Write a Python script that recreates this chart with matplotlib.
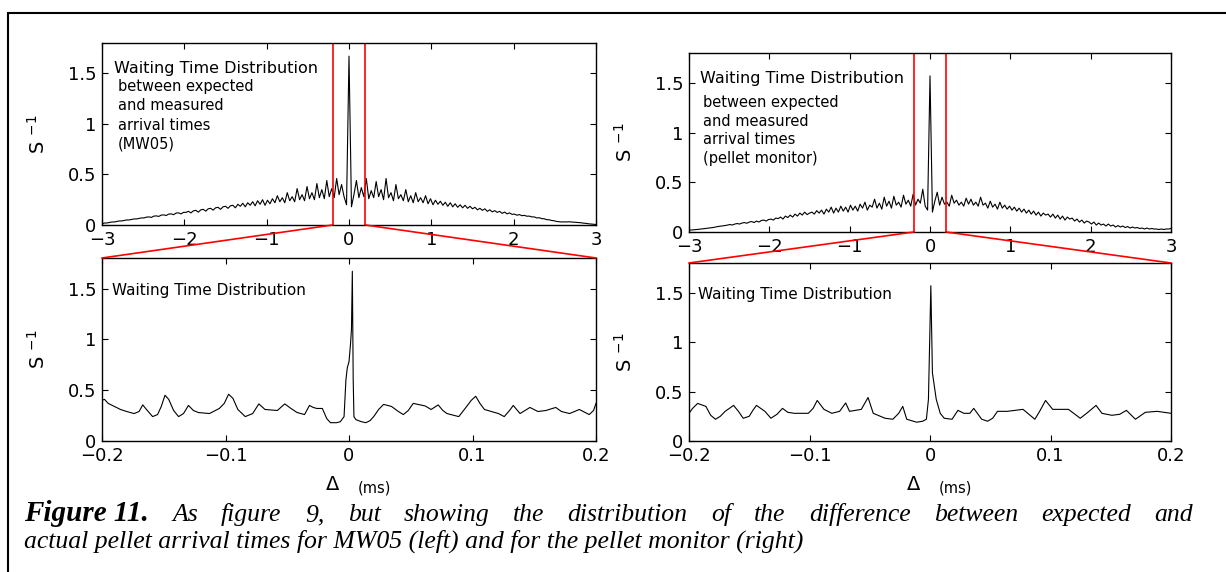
import numpy as np
import matplotlib
matplotlib.use("Agg")
import matplotlib.pyplot as plt
from matplotlib.patches import ConnectionPatch, Rectangle

# ---------------- data ----------------
top_x_start, top_x_step = -3.0, 0.03   # sampling grid of the overview histograms

top_left_y = [
    0.01, 0.02, 0.02, 0.025, 0.03, 0.03, 0.035, 0.04, 0.04, 0.045, 0.05, 0.05, 0.055, 0.06, 0.06, 0.065, 0.07,
    0.07, 0.078, 0.08, 0.075, 0.088, 0.09, 0.085, 0.098, 0.10, 0.094, 0.108, 0.11, 0.102, 0.118, 0.12, 0.11, 0.125,
    0.125, 0.135, 0.12, 0.14, 0.145, 0.127, 0.15, 0.155, 0.137, 0.16, 0.165, 0.147, 0.17, 0.175, 0.155, 0.18, 0.185,
    0.165, 0.19, 0.195, 0.17, 0.205, 0.185, 0.215, 0.18, 0.22, 0.195, 0.23, 0.19, 0.24, 0.205, 0.25, 0.195, 0.245,
    0.21, 0.26, 0.22, 0.29, 0.23, 0.27, 0.22, 0.32, 0.24, 0.28, 0.23, 0.36, 0.25, 0.3, 0.24, 0.38, 0.26,
    0.32, 0.25, 0.41, 0.27, 0.35, 0.26, 0.44, 0.28, 0.36, 0.27, 0.46, 0.3, 0.4, 0.28, 0.2,
    1.67,
    0.18, 0.3, 0.44, 0.27, 0.37, 0.28, 0.46, 0.26, 0.34, 0.27, 0.43, 0.28, 0.35, 0.25, 0.46,
    0.27, 0.32, 0.24, 0.4, 0.26, 0.3, 0.24, 0.35, 0.23, 0.29, 0.22, 0.32, 0.23, 0.27, 0.22, 0.29, 0.21,
    0.26, 0.2, 0.245, 0.205, 0.235, 0.195, 0.225, 0.185, 0.22, 0.18, 0.21, 0.175, 0.2, 0.17, 0.195, 0.165, 0.185,
    0.16, 0.175, 0.15, 0.165, 0.145, 0.16, 0.135, 0.15, 0.13, 0.142, 0.125, 0.135, 0.115, 0.128, 0.11, 0.12, 0.105,
    0.108, 0.097, 0.103, 0.092, 0.095, 0.087, 0.088, 0.08, 0.08, 0.07, 0.072, 0.063, 0.062, 0.053, 0.052, 0.045, 0.042,
    0.035, 0.032, 0.03, 0.031, 0.03, 0.032, 0.03, 0.028, 0.027, 0.025, 0.022, 0.018, 0.016, 0.012, 0.01, 0.008, 0.005,
]

top_right_y = [
    0.02, 0.02, 0.022, 0.025, 0.027, 0.03, 0.032, 0.035, 0.04, 0.042, 0.045, 0.05, 0.055, 0.058, 0.06, 0.065, 0.07,
    0.075, 0.07, 0.08, 0.085, 0.08, 0.09, 0.095, 0.088, 0.1, 0.105, 0.095, 0.11, 0.1, 0.115, 0.12, 0.11, 0.125,
    0.13, 0.12, 0.14, 0.135, 0.15, 0.13, 0.16, 0.145, 0.17, 0.15, 0.18, 0.16, 0.19, 0.17, 0.2, 0.175, 0.19,
    0.2, 0.18, 0.215, 0.19, 0.22, 0.18, 0.23, 0.2, 0.25, 0.19, 0.24, 0.2, 0.26, 0.21, 0.25, 0.2, 0.27,
    0.22, 0.26, 0.21, 0.28, 0.24, 0.3, 0.22, 0.27, 0.25, 0.33, 0.24, 0.29, 0.23, 0.35, 0.26, 0.31, 0.24,
    0.36, 0.27, 0.3, 0.25, 0.37, 0.28, 0.32, 0.26, 0.38, 0.27, 0.33, 0.29, 0.43, 0.26, 0.22,
    1.57,
    0.2, 0.31, 0.4, 0.27, 0.35, 0.28, 0.3, 0.26, 0.37, 0.29, 0.32, 0.27, 0.3, 0.26, 0.34,
    0.28, 0.33, 0.27, 0.3, 0.26, 0.35, 0.27, 0.29, 0.24, 0.31, 0.25, 0.28, 0.23, 0.3, 0.24, 0.27, 0.23,
    0.26, 0.22, 0.25, 0.21, 0.24, 0.2, 0.23, 0.19, 0.22, 0.18, 0.21, 0.17, 0.2, 0.16, 0.19, 0.17, 0.18,
    0.15, 0.18, 0.14, 0.17, 0.13, 0.16, 0.12, 0.15, 0.13, 0.14, 0.11, 0.13, 0.1, 0.12, 0.09, 0.11, 0.1,
    0.08, 0.1, 0.07, 0.09, 0.07, 0.08, 0.06, 0.08, 0.06, 0.07, 0.05, 0.065, 0.05, 0.06, 0.045, 0.055, 0.04,
    0.05, 0.04, 0.045, 0.035, 0.04, 0.03, 0.04, 0.03, 0.035, 0.03, 0.03, 0.025, 0.03, 0.025, 0.03, 0.03, 0.035,
]

bot_left_x = [-0.200, -0.198, -0.195, -0.190, -0.185, -0.180, -0.174, -0.170, -0.167, -0.164, -0.159, -0.155,
              -0.152, -0.149, -0.146, -0.142, -0.138, -0.134, -0.130, -0.126, -0.122, -0.113, -0.105, -0.101,
              -0.0975, -0.094, -0.090, -0.084, -0.078, -0.073, -0.068, -0.058, -0.052, -0.047, -0.042, -0.036,
              -0.032, -0.029, -0.026, -0.0216, -0.018, -0.015, -0.010, -0.007, -0.004, -0.0025, -0.0014, 0.0,
              0.0012, 0.0020, 0.0027, 0.0034, 0.004, 0.0056, 0.010, 0.0136, 0.017, 0.020, 0.024, 0.028, 0.0344,
              0.040, 0.044, 0.048, 0.052, 0.0616, 0.0665, 0.0722, 0.076, 0.0793, 0.0889, 0.0953, 0.0990, 0.1026,
              0.106, 0.1097, 0.121, 0.1257, 0.130, 0.133, 0.1385, 0.1465, 0.153, 0.1594, 0.1674, 0.172, 0.1786,
              0.1865, 0.1945, 0.198, 0.200]
bot_left_y = [0.40, 0.41, 0.37, 0.34, 0.31, 0.29, 0.27, 0.29, 0.355, 0.31, 0.24, 0.26,
              0.34, 0.45, 0.41, 0.30, 0.24, 0.27, 0.35, 0.30, 0.28, 0.27, 0.32, 0.37,
              0.46, 0.42, 0.31, 0.24, 0.27, 0.365, 0.31, 0.30, 0.365, 0.32, 0.28, 0.26,
              0.35, 0.33, 0.32, 0.32, 0.22, 0.18, 0.18, 0.19, 0.24, 0.60, 0.72, 0.78,
              0.95, 1.10, 1.67, 0.60, 0.24, 0.21, 0.19, 0.18, 0.20, 0.24, 0.31, 0.36, 0.34,
              0.29, 0.26, 0.30, 0.37, 0.345, 0.31, 0.355, 0.30, 0.27, 0.24, 0.34, 0.40, 0.44,
              0.37, 0.31, 0.27, 0.24, 0.30, 0.35, 0.27, 0.33, 0.29, 0.30, 0.33, 0.29, 0.27,
              0.31, 0.26, 0.30, 0.37]

bot_right_x = [-0.200, -0.197, -0.1928, -0.186, -0.182, -0.178, -0.174, -0.170, -0.163, -0.159, -0.155, -0.150,
               -0.147, -0.144, -0.137, -0.132, -0.127, -0.1224, -0.118, -0.1126, -0.101, -0.097, -0.0936, -0.088,
               -0.0815, -0.075, -0.070, -0.0668, -0.057, -0.0514, -0.0471, -0.0373, -0.0308, -0.026, -0.0226,
               -0.0193, -0.0111, -0.006, -0.003, -0.0013, 0.0007, 0.002, 0.0052, 0.0085, 0.0118, 0.0183, 0.0232,
               0.0281, 0.033, 0.0363, 0.0429, 0.0478, 0.052, 0.056, 0.0641, 0.0772, 0.087, 0.091, 0.0959, 0.1018,
               0.1083, 0.1149, 0.1247, 0.131, 0.1378, 0.1427, 0.1509, 0.1574, 0.163, 0.1705, 0.1787, 0.1885, 0.200]
bot_right_y = [0.28, 0.33, 0.38, 0.35, 0.26, 0.22, 0.25, 0.30, 0.36, 0.30, 0.23, 0.25,
               0.31, 0.36, 0.30, 0.23, 0.27, 0.33, 0.29, 0.28, 0.28, 0.33, 0.41, 0.32,
               0.28, 0.30, 0.385, 0.30, 0.32, 0.44, 0.28, 0.23, 0.22, 0.28, 0.35,
               0.22, 0.19, 0.20, 0.22, 0.42, 1.57, 0.69, 0.42, 0.28, 0.23, 0.22, 0.31,
               0.28, 0.28, 0.33, 0.22, 0.20, 0.23, 0.30, 0.30, 0.32, 0.22, 0.30, 0.41, 0.32,
               0.32, 0.32, 0.23, 0.29, 0.36, 0.28, 0.26, 0.27, 0.31, 0.22, 0.29, 0.30, 0.28]

top_xticks = [-3, -2, -1, 0, 1, 2, 3]
top_xticklabels = ["\u22123", "\u22122", "\u22121", "0", "1", "2", "3"]
bot_xticks = [-0.2, -0.1, 0, 0.1, 0.2]
bot_xticklabels = ["\u22120.2", "\u22120.1", "0", "0.1", "0.2"]
yticks = [0, 0.5, 1, 1.5]
yticklabels = ["0", "0.5", "1", "1.5"]
zoom_range = (-0.2, 0.2)
y_max = 1.8

title_text = "Waiting Time Distribution"
left_sub = ["between expected", "and measured", "arrival times", "(MW05)"]
right_sub = ["between expected", "and measured", "arrival times", "(pellet monitor)"]
caption_bold = "Figure 11."
caption_line1 = "As figure 9, but showing the distribution of the difference between expected and"
caption_line2 = "actual pellet arrival times for MW05 (left) and for the pellet monitor (right)"

# ---------------- figure ----------------
W, H = 1226, 572
fig = plt.figure(figsize=(W / 100, H / 100), dpi=100)
plt.rcParams['font.family'] = ['DejaVu Sans']


def px_rect(x0, y0, x1, y1):
    return [x0 / W, 1 - y1 / H, (x1 - x0) / W, (y1 - y0) / H]


ax_tl = fig.add_axes(px_rect(102, 43, 596, 225))
ax_bl = fig.add_axes(px_rect(102, 258, 596, 441))
ax_tr = fig.add_axes(px_rect(689, 53, 1171, 232))
ax_br = fig.add_axes(px_rect(689, 263, 1171, 441))

top_x = top_x_start + top_x_step * np.arange(len(top_left_y))


def style(ax, xt, xtl, xlim):
    ax.set_xlim(*xlim)
    ax.set_ylim(0, y_max)
    ax.set_xticks(xt)
    ax.set_xticklabels(xtl)
    ax.set_yticks(yticks)
    ax.set_yticklabels(yticklabels)
    ax.tick_params(direction='in', top=True, right=True, length=4, width=0.8,
                   labelsize=13, pad=4)
    for s in ax.spines.values():
        s.set_linewidth(1.0)
    ax.set_ylabel(r'S $^{-1}$', fontsize=14, labelpad=14)


ax_tl.plot(top_x, top_left_y, color='black', lw=0.8)
ax_tr.plot(top_x, top_right_y, color='black', lw=0.8)
ax_bl.plot(bot_left_x, bot_left_y, color='black', lw=0.8)
ax_br.plot(bot_right_x, bot_right_y, color='black', lw=0.8)

for ax in (ax_tl, ax_tr):
    style(ax, top_xticks, top_xticklabels, (-3, 3))
for ax in (ax_bl, ax_br):
    style(ax, bot_xticks, bot_xticklabels, (-0.2, 0.2))

# zoom indication
for top, bot in ((ax_tl, ax_bl), (ax_tr, ax_br)):
    for xv in zoom_range:
        top.axvline(xv, color='red', lw=1.2)
        cp = ConnectionPatch(xyA=(xv, 0), coordsA=top.transData,
                             xyB=(xv, y_max), coordsB=bot.transData,
                             color='red', lw=1.2, zorder=5)
        fig.add_artist(cp)


def fy(y):
    return 1 - y / H


# annotations
fig.text(114 / W, fy(68), title_text, fontsize=11.5, va='center', ha='left')
for i, s in enumerate(left_sub):
    fig.text(118 / W, fy(87 + 19 * i), s, fontsize=10.5, va='center', ha='left')
fig.text(700 / W, fy(79), title_text, fontsize=11.5, va='center', ha='left')
for i, s in enumerate(right_sub):
    fig.text(703 / W, fy(103 + 18.5 * i), s, fontsize=10.5, va='center', ha='left')
fig.text(112 / W, fy(290), title_text, fontsize=11, va='center', ha='left')
fig.text(698 / W, fy(294), title_text, fontsize=11, va='center', ha='left')

# x labels
for cx in (349, 930):
    fig.text((cx - 16) / W, fy(485), "\u0394", fontsize=14, ha='center', va='center')
    fig.text((cx + 25) / W, fy(488), "(ms)", fontsize=10.5, ha='center', va='center')

# outer frame
fig.add_artist(Rectangle((8 / W, -0.05), 1.2, fy(13) + 0.05, transform=fig.transFigure,
                         fill=False, edgecolor='black', lw=1.5, clip_on=False))

# caption (first line justified as in the typeset original)
cap_font = ['Liberation Serif', 'DejaVu Serif']
cap_size = 18.5
x_left, x_right = 24, 1193
base1, base2 = 521, 548
t1 = fig.text(x_left / W, fy(base1), caption_bold, fontsize=21, family=cap_font,
              fontweight='bold', style='italic', va='baseline', ha='left')
words = caption_line1.split()
wtexts = [fig.text(0, fy(base1), w, fontsize=cap_size, family=cap_font,
                   style='italic', va='baseline', ha='left') for w in words]
fig.canvas.draw()
r = fig.canvas.get_renderer()
start = t1.get_window_extent(r).x1
widths = [t.get_window_extent(r).width for t in wtexts]
gap = (x_right - start - sum(widths)) / len(words)
xpos = start + gap
for t, w in zip(wtexts, widths):
    t.set_x(xpos / W)
    xpos += w + gap
fig.text(x_left / W, fy(base2), caption_line2, fontsize=cap_size, family=cap_font,
         style='italic', va='baseline', ha='left')

fig.savefig("out.png", dpi=100)
